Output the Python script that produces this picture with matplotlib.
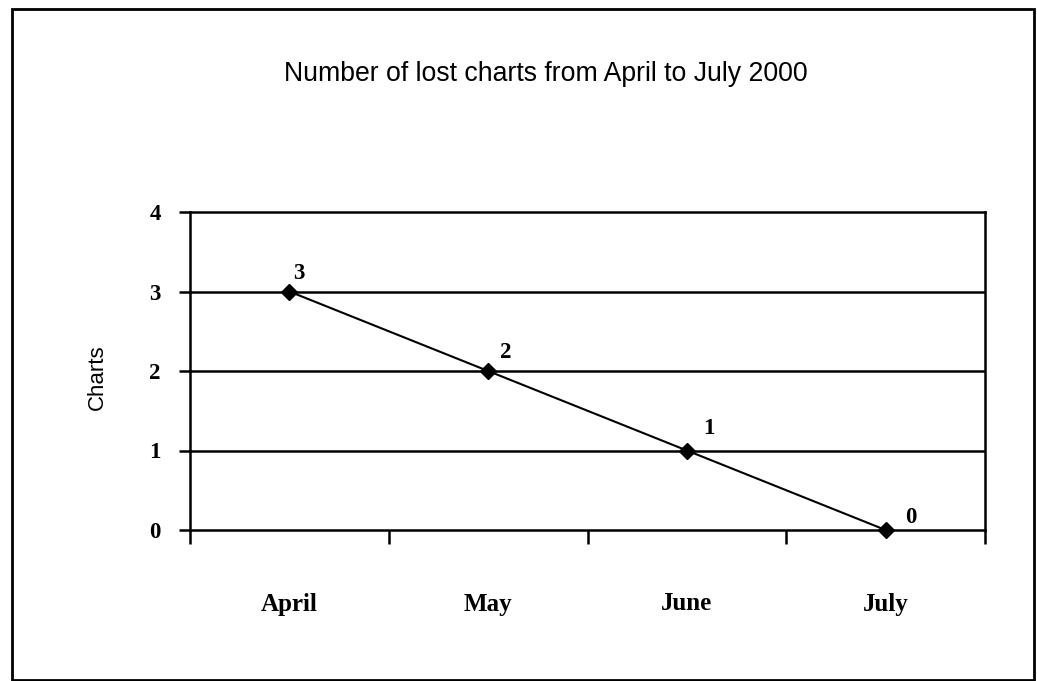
import matplotlib.pyplot as plt
from matplotlib.patches import Rectangle

months = ["April", "May", "June", "July"]
lost = [3, 2, 1, 0]
yticks = [0, 1, 2, 3, 4]

# label offsets in points (scan has them a bit uneven)
offs = [(7, 13), (13, 13), (16, 16), (18, 9)]

fig = plt.figure(figsize=(10.37, 6.81), dpi=100)
ax = fig.add_axes([190/1037, 1-530/681, 795/1037, 318/681])

x = list(range(len(months)))
ax.plot(x, lost, color="black", lw=1.5, marker="D", ms=8.5, mfc="black", mec="black",
        zorder=3, clip_on=False)

for i, v in enumerate(lost):
    ax.annotate(str(v), (x[i], v), xytext=offs[i], textcoords="offset points",
                ha="center", va="center", fontsize=16.5, fontweight="bold", family="Liberation Serif")

ax.set_xlim(-0.5, len(months) - 0.5)
ax.set_ylim(0, 4)
for y in yticks[1:-1]:
    ax.axhline(y, color="black", lw=1.8, zorder=1)

for s in ax.spines.values():
    s.set_linewidth(1.8)

ax.set_yticks(yticks)
ax.set_yticklabels([str(t) for t in yticks], fontsize=16.5, fontweight="bold", family="Liberation Serif")
ax.tick_params(axis="y", direction="out", length=8, width=1.8, pad=13)

ax.set_xticks([i - 0.5 for i in range(len(months) + 1)])
ax.set_xticklabels([])
ax.tick_params(axis="x", which="major", direction="out", length=10, width=1.8)
ax.set_xticks(x, minor=True)
ax.set_xticklabels(months, minor=True, fontsize=18, fontweight="bold", family="Liberation Serif")
ax.tick_params(axis="x", which="minor", length=0, pad=45)

ax.set_ylabel("Charts", fontsize=16, family="Liberation Sans")
ax.yaxis.set_label_coords(-0.103, 0.48)

fig.text(546/1037, 1-74/681, "Number of lost charts from April to July 2000",
         ha="center", va="center", fontsize=19.2, family="Liberation Sans")

fig.patches.append(Rectangle((12/1037, 1/681), 1022/1037, 671/681, transform=fig.transFigure,
                             fill=False, edgecolor="black", lw=2))

plt.savefig("out.png", dpi=100)
